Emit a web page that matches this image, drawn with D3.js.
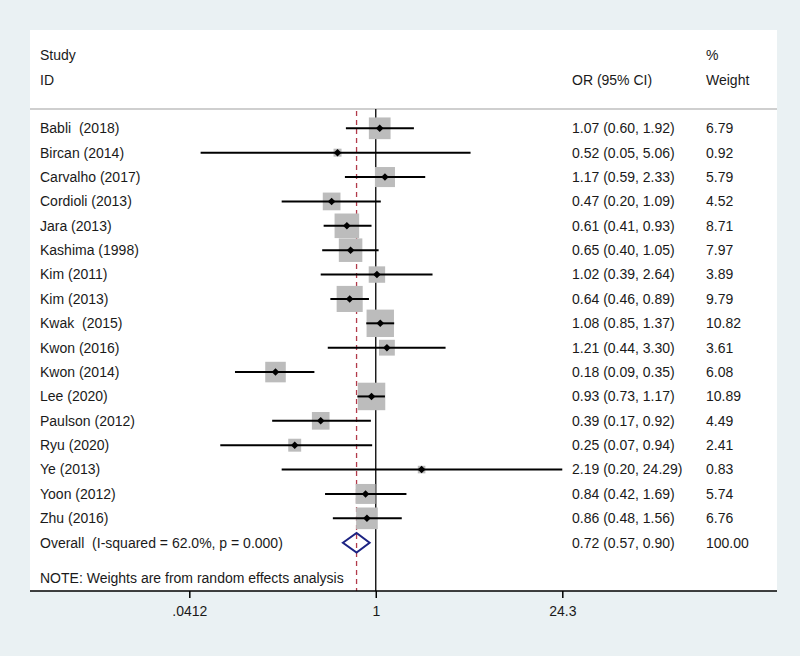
<!DOCTYPE html>
<html>
<head>
<meta charset="utf-8">
<script src="https://cdn.jsdelivr.net/npm/d3@7"></script>
<style>
  html, body { margin: 0; padding: 0; background: #eaf1f3; }
  svg { display: block; }
  text { font-family: "Liberation Sans", Arial, sans-serif; font-size: 14px; fill: #1a1a1a; white-space: pre; }
</style>
</head>
<body>
<svg id="chart" width="800" height="656"></svg>
<script>
const studies = ["Babli  (2018)", "Bircan (2014)", "Carvalho (2017)", "Cordioli (2013)", "Jara (2013)",
  "Kashima (1998)", "Kim (2011)", "Kim (2013)", "Kwak  (2015)", "Kwon (2016)", "Kwon (2014)",
  "Lee (2020)", "Paulson (2012)", "Ryu (2020)", "Ye (2013)", "Yoon (2012)", "Zhu (2016)"];
const orValues = [1.07, 0.52, 1.17, 0.47, 0.61, 0.65, 1.02, 0.64, 1.08, 1.21, 0.18, 0.93, 0.39, 0.25, 2.19, 0.84, 0.86];
const ciLow    = [0.60, 0.05, 0.59, 0.20, 0.41, 0.40, 0.39, 0.46, 0.85, 0.44, 0.09, 0.73, 0.17, 0.07, 0.20, 0.42, 0.48];
const ciHigh   = [1.92, 5.06, 2.33, 1.09, 0.93, 1.05, 2.64, 0.89, 1.37, 3.30, 0.35, 1.17, 0.92, 0.94, 24.29, 1.69, 1.56];
const weights  = [6.79, 0.92, 5.79, 4.52, 8.71, 7.97, 3.89, 9.79, 10.82, 3.61, 6.08, 10.89, 4.49, 2.41, 0.83, 5.74, 6.76];
const overallLabel = "Overall  (I-squared = 62.0%, p = 0.000)";
const overall = { or: 0.72, lo: 0.57, hi: 0.90, weight: 100.00 };
const tickValues = [0.0412, 1, 24.3];
const tickLabels = [".0412", "1", "24.3"];
const noteText = "NOTE: Weights are from random effects analysis";

const svg = d3.select("#chart");
const fmt = d3.format(".2f");

// panel
const panel = { x0: 30, x1: 777, y0: 30, y1: 591 };
svg.append("rect").attr("x", panel.x0).attr("y", panel.y0)
  .attr("width", panel.x1 - panel.x0).attr("height", panel.y1 - panel.y0).attr("fill", "#ffffff");

const x = d3.scaleLog().domain([0.0412, 24.3]).range([189.3, 562.3]);
const y = d3.scaleLinear().domain([0, 17]).range([128.3, 542.7]);

// header
const headerY1 = 55, headerY2 = 80;
svg.append("text").attr("x", 40).attr("y", headerY1).attr("dy", "0.35em").text("Study");
svg.append("text").attr("x", 40).attr("y", headerY2).attr("dy", "0.35em").text("ID");
svg.append("text").attr("x", 572).attr("y", headerY2).attr("dy", "0.35em").text("OR (95% CI)");
svg.append("text").attr("x", 706).attr("y", headerY1).attr("dy", "0.35em").text("%");
svg.append("text").attr("x", 706).attr("y", headerY2).attr("dy", "0.35em").text("Weight");

svg.append("line").attr("x1", panel.x0).attr("x2", panel.x1).attr("y1", 109).attr("y2", 109)
  .attr("stroke", "#cfcfcf").attr("stroke-width", 2);

// reference line at 1
svg.append("line").attr("x1", x(1)).attr("x2", x(1)).attr("y1", 109).attr("y2", panel.y1)
  .attr("stroke", "#000").attr("stroke-width", 1.3);

// overall dashed line
svg.append("line").attr("x1", x(overall.or)).attr("x2", x(overall.or)).attr("y1", 111).attr("y2", panel.y1)
  .attr("stroke", "#b23a4a").attr("stroke-width", 1.3).attr("stroke-dasharray", "5,4");

const rows = studies.map((s, i) => ({ s, or: orValues[i], lo: ciLow[i], hi: ciHigh[i], w: weights[i], i }));
const k = 8.33;

const g = svg.append("g");
// boxes
g.selectAll("rect.box").data(rows).join("rect").attr("class", "box")
  .attr("x", d => x(d.or) - k * Math.sqrt(d.w) / 2)
  .attr("y", d => y(d.i) - k * Math.sqrt(d.w) / 2)
  .attr("width", d => k * Math.sqrt(d.w))
  .attr("height", d => k * Math.sqrt(d.w))
  .attr("fill", "#bcbcbc");
// CI lines
g.selectAll("line.ci").data(rows).join("line").attr("class", "ci")
  .attr("x1", d => x(d.lo)).attr("x2", d => x(d.hi))
  .attr("y1", d => y(d.i)).attr("y2", d => y(d.i))
  .attr("stroke", "#000").attr("stroke-width", 2);
// point diamonds
g.selectAll("path.pt").data(rows).join("path").attr("class", "pt")
  .attr("d", d => { const cx = x(d.or), cy = y(d.i), r = 3.8;
    return `M${cx - r},${cy}L${cx},${cy - r}L${cx + r},${cy}L${cx},${cy + r}Z`; })
  .attr("fill", "#000");

// labels
g.selectAll("text.lab").data(rows).join("text").attr("class", "lab")
  .attr("x", 40).attr("y", d => y(d.i)).attr("dy", "0.35em").text(d => d.s);
g.selectAll("text.ci").data(rows).join("text").attr("class", "ci")
  .attr("x", 572).attr("y", d => y(d.i)).attr("dy", "0.35em")
  .text(d => `${fmt(d.or)} (${fmt(d.lo)}, ${fmt(d.hi)})`);
g.selectAll("text.wt").data(rows).join("text").attr("class", "wt")
  .attr("x", 706).attr("y", d => y(d.i)).attr("dy", "0.35em").text(d => fmt(d.w));

// overall
const oy = y(17);
svg.append("text").attr("x", 40).attr("y", oy).attr("dy", "0.35em").text(overallLabel);
svg.append("path")
  .attr("d", `M${x(overall.lo)},${oy}L${x(overall.or)},${oy - 9.8}L${x(overall.hi)},${oy}L${x(overall.or)},${oy + 9.8}Z`)
  .attr("fill", "none").attr("stroke", "#1c2383").attr("stroke-width", 2);
svg.append("text").attr("x", 572).attr("y", oy).attr("dy", "0.35em")
  .text(`${fmt(overall.or)} (${fmt(overall.lo)}, ${fmt(overall.hi)})`);
svg.append("text").attr("x", 706).attr("y", oy).attr("dy", "0.35em").text(fmt(overall.weight));

// note
svg.append("text").attr("x", 40).attr("y", 578.3).attr("dy", "0.35em").text(noteText);

// axis
const axis = d3.axisBottom(x).tickValues(tickValues).tickFormat((d, i) => tickLabels[i]).tickSize(7).tickPadding(8);
const ax = svg.append("g").attr("transform", `translate(0,${panel.y1})`).call(axis);
ax.select(".domain").remove();
ax.selectAll(".tick line").attr("stroke", "#000").attr("stroke-width", 1.5);
ax.selectAll(".tick text").attr("font-size", 14).attr("fill", "#1a1a1a")
  .attr("font-family", "Liberation Sans, Arial, sans-serif");
svg.append("line").attr("x1", panel.x0).attr("x2", panel.x1).attr("y1", panel.y1).attr("y2", panel.y1)
  .attr("stroke", "#000").attr("stroke-width", 1.5);
</script>
</body>
</html>
